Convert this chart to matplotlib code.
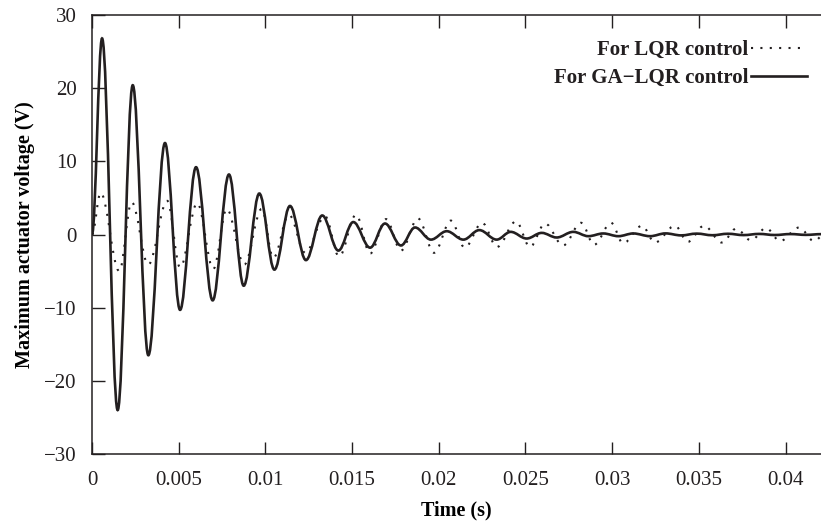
import matplotlib
matplotlib.use("Agg")
import matplotlib.pyplot as plt
from matplotlib.path import Path
from matplotlib.patches import PathPatch
from matplotlib.lines import Line2D

# ---- data (extrema) ----
ga_t = [0.0, 0.00058, 0.00148, 0.00235, 0.00325, 0.00421, 0.00508, 0.00600, 0.00696,
        0.00790, 0.00875, 0.00965, 0.01052, 0.01142, 0.01234, 0.01328, 0.01421,
        0.01507, 0.01604, 0.01690, 0.01782, 0.01863, 0.01955, 0.02046, 0.02142,
        0.02234, 0.02334, 0.02415, 0.02507, 0.02594, 0.02680, 0.02776, 0.02863,
        0.02949, 0.03036, 0.03122, 0.03219, 0.03308, 0.03398, 0.03488, 0.03578,
        0.03668, 0.03758, 0.03848, 0.03938, 0.04028, 0.04118, 0.04208]
ga_v = [0.0, 26.8, -24.0, 20.4, -16.5, 12.5, -10.3, 9.2, -9.0,
        8.2, -7.0, 5.6, -4.8, 3.9, -3.5, 2.6, -2.2,
        1.7, -1.8, 1.5, -1.5, 0.96, -0.7, 0.45, -0.7,
        0.6, -0.7, 0.36, -0.55, 0.22, -0.41, 0.36, -0.23,
        0.14, -0.23, 0.14, -0.23, 0.15, -0.12, 0.12, -0.10,
        0.10, -0.08, 0.08, -0.07, 0.06, -0.05, 0.05]

lqr_t = [0.0, 0.00050, 0.00157, 0.00229, 0.00325, 0.00434, 0.00508, 0.00607, 0.00700,
         0.00777, 0.00878, 0.00979, 0.01046, 0.01136, 0.01230, 0.01344, 0.01425,
         0.01523, 0.01604, 0.01696, 0.01782, 0.01880, 0.01973, 0.02070, 0.02150,
         0.02250, 0.02336, 0.02446, 0.02526, 0.02613, 0.02717, 0.02821, 0.02896,
         0.02994, 0.03063, 0.03172, 0.03247, 0.03363, 0.03437, 0.03530, 0.03634,
         0.03715, 0.03801, 0.03888, 0.03968, 0.04078, 0.04165, 0.04250]
lqr_v = [0.0, 5.7, -5.0, 4.4, -4.1, 4.6, -4.5, 4.3, -4.7,
         3.5, -4.1, 3.5, -3.2, 2.7, -2.5, 2.5, -3.0,
         2.7, -2.6, 2.1, -2.2, 2.2, -2.5, 1.9, -1.8,
         1.6, -1.7, 1.8, -1.7, 1.5, -1.5, 1.6, -1.4,
         1.6, -1.2, 1.2, -1.1, 1.2, -1.0, 1.2, -1.1,
         0.8, -0.8, 0.9, -0.9, 0.95, -0.9, 0.8]

x_ticks = [0, 0.005, 0.01, 0.015, 0.02, 0.025, 0.03, 0.035, 0.04]
x_labels = ["0", "0.005", "0.01", "0.015", "0.02", "0.025", "0.03", "0.035", "0.04"]
y_ticks = [-30, -20, -10, 0, 10, 20, 30]
y_labels = ["\u221230", "\u221220", "\u221210", "0", "10", "20", "30"]

label_lqr = "For LQR control"
label_ga = "For GA\u2212LQR control"

# ---- style ----
ink = "#231f20"
plt.rcParams["font.family"] = ["Liberation Serif", "DejaVu Serif"]
plt.rcParams["text.color"] = ink

fig = plt.figure(figsize=(8.21, 5.24), dpi=100)
ax = fig.add_axes([92 / 821, 1 - 454 / 524, 1 - 92 / 821, (454 - 15) / 524])


def smooth_path(t, v):
    verts = [(t[0], v[0])]
    codes = [Path.MOVETO]
    for i in range(len(t) - 1):
        a = 0.3634 * (t[i + 1] - t[i])
        verts += [(t[i] + a, v[i]), (t[i + 1] - a, v[i + 1]), (t[i + 1], v[i + 1])]
        codes += [Path.CURVE4] * 3
    return Path(verts, codes)


dot_style = (0, (1.0, 3.5))
p_lqr = PathPatch(smooth_path(lqr_t, lqr_v), fill=False, edgecolor=ink, lw=1.5,
                  linestyle=dot_style, capstyle="butt", transform=ax.transData)
p_ga = PathPatch(smooth_path(ga_t, ga_v), fill=False, edgecolor=ink, lw=1.9,
                 transform=ax.transData)
ax.add_patch(p_lqr)
ax.add_patch(p_ga)

ax.set_xlim(0, (821 - 92) / ((785.5 - 92) / 0.04))
ax.set_ylim(-30, 30)
ax.set_xticks(x_ticks)
ax.set_xticklabels(x_labels)
ax.set_yticks(y_ticks)
ax.set_yticklabels(y_labels)
ax.tick_params(direction="in", length=9, width=1.0, top=True, right=False,
               labelsize=15, colors=ink)
ax.tick_params(axis="x", pad=12)
ax.tick_params(axis="y", pad=11)
for s in ["left", "bottom", "top"]:
    ax.spines[s].set_linewidth(1.1)
    ax.spines[s].set_color(ink)
ax.spines["right"].set_visible(False)

ax.set_xlabel("Time (s)", fontsize=14.5, fontweight="bold", labelpad=7.5)
ax.set_ylabel("Maximum actuator voltage (V)", fontsize=14.5, fontweight="bold", labelpad=6.5)

handles = [Line2D([], [], color=ink, lw=1.5, linestyle=dot_style, dash_capstyle="butt"),
           Line2D([], [], color=ink, lw=1.9)]
leg = ax.legend(handles, [label_lqr, label_ga], loc="upper right",
                bbox_to_anchor=(0.9808, 0.943), frameon=False, markerfirst=False,
                handlelength=2.7, handletextpad=0.12, labelspacing=0.38,
                borderaxespad=0, borderpad=0,
                prop={"family": "Liberation Serif", "weight": "bold", "size": 15})

fig.savefig("out.png", dpi=100)
